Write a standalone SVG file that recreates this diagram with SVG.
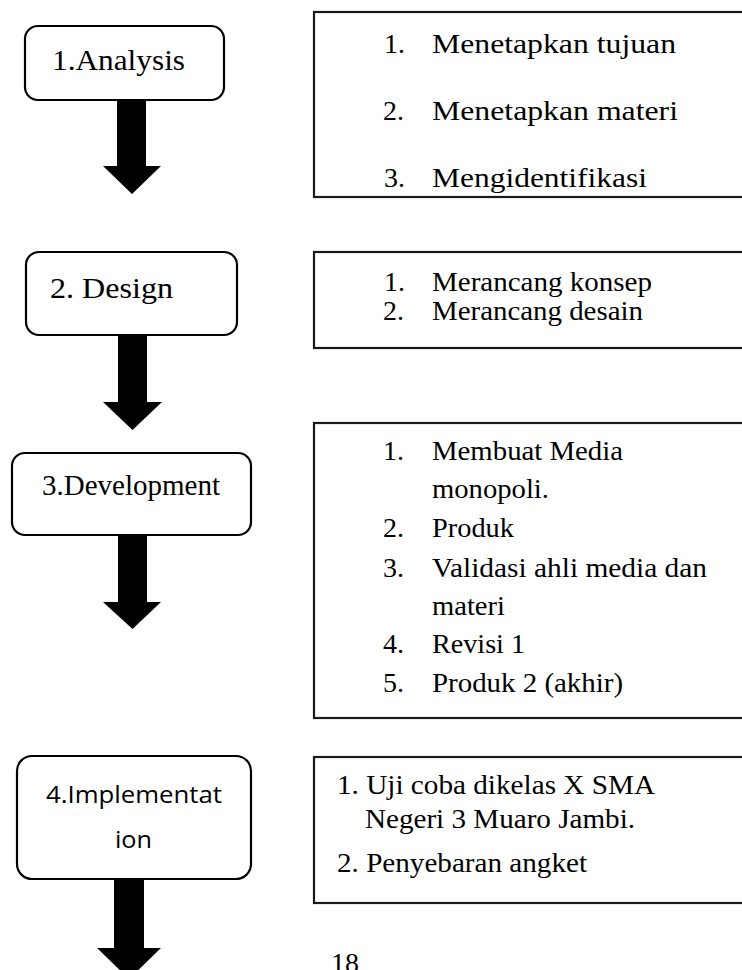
<svg xmlns="http://www.w3.org/2000/svg" width="742" height="970" viewBox="0 0 742 970">
<style>
.step{fill:#fff;stroke:#000;stroke-width:2.2}
.box{fill:#fff;stroke:#1a1a1a;stroke-width:2.2}
.t{font-family:"Liberation Serif","Times New Roman",serif;font-size:28px;fill:#000}
.lbl{font-family:"Liberation Serif","Times New Roman",serif;font-size:29px;fill:#000}
.sans{font-family:"Open Sans","Liberation Sans",sans-serif;font-size:24px;fill:#000}
.arr{fill:#000}
</style>
<rect width="742" height="970" fill="#fff"/>

<g id="analysis">
<rect class="step" x="25" y="26" width="199" height="74" rx="13"/>
<text class="lbl" x="52" y="70" textLength="133" lengthAdjust="spacingAndGlyphs">1.Analysis</text>
</g>
<g id="analysis-detail">
<rect class="box" x="314" y="12" width="450" height="185"/>
<text class="t" x="384" y="53">1.</text>
<text class="t" x="432" y="53" textLength="244" lengthAdjust="spacingAndGlyphs">Menetapkan tujuan</text>
<text class="t" x="383" y="120">2.</text>
<text class="t" x="432" y="120" textLength="246" lengthAdjust="spacingAndGlyphs">Menetapkan materi</text>
<text class="t" x="384" y="187">3.</text>
<text class="t" x="432" y="187" textLength="215" lengthAdjust="spacingAndGlyphs">Mengidentifikasi</text>
</g>

<g id="design">
<rect class="step" x="26" y="252" width="211" height="83" rx="13"/>
<text class="lbl" x="50" y="298" textLength="123" lengthAdjust="spacingAndGlyphs">2. Design</text>
</g>
<g id="design-detail">
<rect class="box" x="314" y="252" width="450" height="96"/>
<text class="t" x="384" y="291">1.</text>
<text class="t" x="432" y="291" textLength="220" lengthAdjust="spacingAndGlyphs">Merancang konsep</text>
<text class="t" x="383" y="320">2.</text>
<text class="t" x="432" y="320" textLength="211" lengthAdjust="spacingAndGlyphs">Merancang desain</text>
</g>

<g id="development">
<rect class="step" x="12" y="453" width="239" height="82" rx="13"/>
<text class="lbl" x="42" y="495" textLength="178" lengthAdjust="spacingAndGlyphs">3.Development</text>
</g>
<g id="development-detail">
<rect class="box" x="314" y="423" width="450" height="295"/>
<text class="t" x="383" y="460">1.</text>
<text class="t" x="432" y="460" textLength="191" lengthAdjust="spacingAndGlyphs">Membuat Media</text>
<text class="t" x="432" y="498" textLength="117" lengthAdjust="spacingAndGlyphs">monopoli.</text>
<text class="t" x="383" y="537">2.</text>
<text class="t" x="432" y="537" textLength="82" lengthAdjust="spacingAndGlyphs">Produk</text>
<text class="t" x="383" y="577">3.</text>
<text class="t" x="432" y="577" textLength="275" lengthAdjust="spacingAndGlyphs">Validasi ahli media dan</text>
<text class="t" x="432" y="615" textLength="73" lengthAdjust="spacingAndGlyphs">materi</text>
<text class="t" x="383" y="653">4.</text>
<text class="t" x="432" y="653" textLength="93" lengthAdjust="spacingAndGlyphs">Revisi 1</text>
<text class="t" x="383" y="692">5.</text>
<text class="t" x="432" y="692" textLength="191" lengthAdjust="spacingAndGlyphs">Produk 2 (akhir)</text>
</g>

<g id="implementation">
<rect class="step" x="17" y="756" width="234" height="123" rx="15"/>
<text class="sans" x="46" y="803" textLength="176" lengthAdjust="spacingAndGlyphs">4.Implementat</text>
<text class="sans" x="115" y="848" textLength="37" lengthAdjust="spacingAndGlyphs">ion</text>
</g>
<g id="implementation-detail">
<rect class="box" x="314" y="757" width="450" height="146"/>
<text class="t" x="337" y="794" textLength="318" lengthAdjust="spacingAndGlyphs">1. Uji coba dikelas X SMA</text>
<text class="t" x="365" y="828" textLength="270" lengthAdjust="spacingAndGlyphs">Negeri 3 Muaro Jambi.</text>
<text class="t" x="337" y="872" textLength="250" lengthAdjust="spacingAndGlyphs">2. Penyebaran angket</text>
</g>

<g id="connectors">
<polygon class="arr" points="117,100 146,100 146,166 161,166 132,194 103,166 117,166"/>
<polygon class="arr" points="118,335 147,335 147,402 162,402 132.5,430 103,402 118,402"/>
<polygon class="arr" points="118,535 147,535 147,602 161,602 132.5,629 103,602 118,602"/>
<polygon class="arr" points="114,879 144,879 144,948 161,948 129,979 97,948 114,948"/>
</g>

<text class="t" x="331" y="972" textLength="28" lengthAdjust="spacingAndGlyphs">18</text>
</svg>
